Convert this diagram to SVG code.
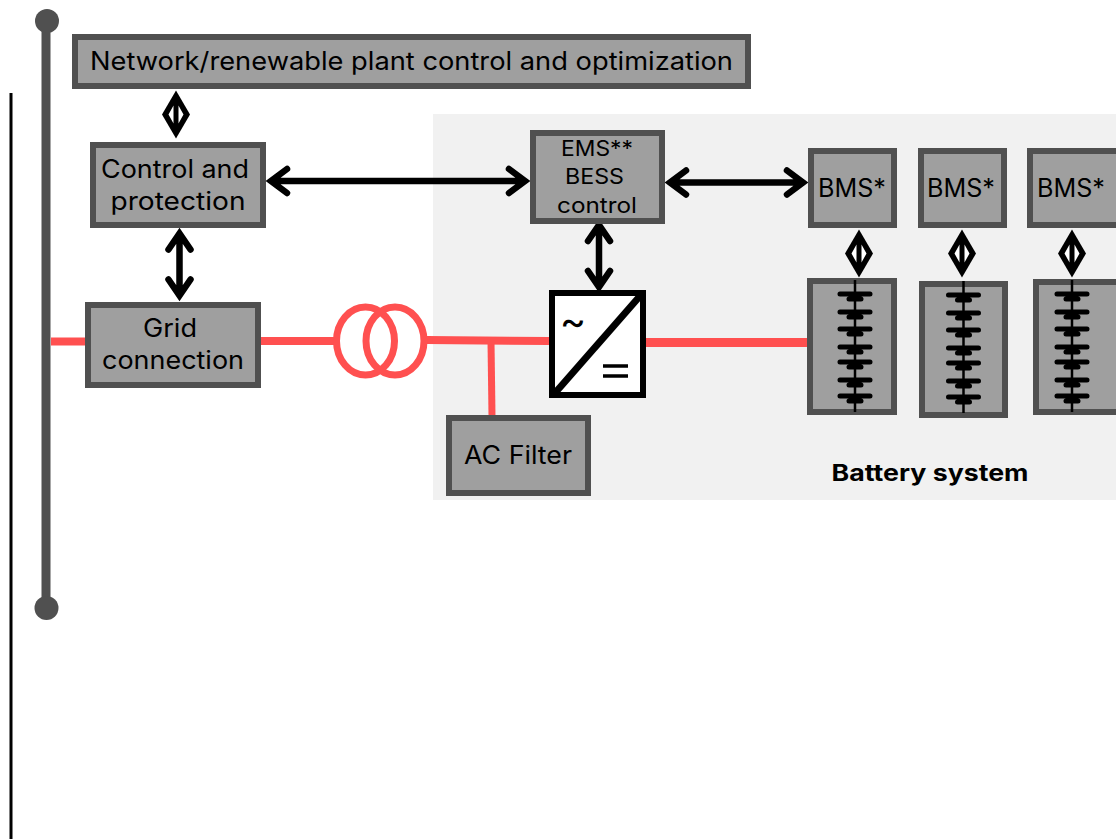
<svg xmlns="http://www.w3.org/2000/svg" xmlns:xlink="http://www.w3.org/1999/xlink" width="1116" height="839" viewBox="0 0 1116 839">
<style>
.box{fill:#9f9f9f;stroke:#505050;stroke-width:6}
.t{font-family:Inter,"Liberation Sans",sans-serif;font-size:25px;fill:#000;text-anchor:middle}
.s{font-size:22px}
.red{stroke:#ff5050;fill:none}
.arr{stroke:#000;stroke-width:6.500;fill:none;stroke-linecap:round;stroke-linejoin:miter}
.plate{stroke:#000;stroke-linecap:round;fill:none}
</style>
<defs>
<g id="dbl"><path class="arr" d="M0 -28V28M-11 -15L0 -31L11 -15M-11 15L0 31L11 15"/></g>
<g id="dia"><path d="M0 -24L-14 0L0 24L14 0Z" fill="#000"/><path d="M-2.500 -9L-7.500 0L-2.500 9ZM2.500 -9L7.500 0L2.500 9Z" fill="#fff"/></g>
<g id="cells">
<path stroke="#000" stroke-width="2.500" d="M0 -62V70"/>
<path class="plate" stroke-width="5" d="M-15 -48H15M-6 -43H6M-15 -30H15M-6 -25H6M-15 -13H15M-6 -8H6M-15 5H15M-6 10H6M-15 20H15M-6 25H6M-15 38H15M-6 43H6M-15 54H15M-6 59H6"/>
</g>
</defs>
<rect x="433" y="114" width="683" height="386" fill="#f1f1f1"/>
<path d="M11 93V839" stroke="#000" stroke-width="3"/>
<g id="bus"><path d="M46 21V608" stroke="#505050" stroke-width="9"/><circle cx="47" cy="21" r="12" fill="#505050"/><circle cx="46.500" cy="608" r="12" fill="#505050"/></g>
<g id="connectors">
<g class="red">
<path d="M51 341.500H87M261 341H334M427 340L549 341" stroke-width="8"/>
<path d="M491 341L492 416" stroke-width="7"/>
<path d="M646 342.500H807" stroke-width="9"/>
</g>
<path class="arr" d="M272 181H524M287 169L271 181L287 193M509 169L525 181L509 193"/>
<path class="arr" d="M671 182.500H802M686 170.500L670 182.500L686 194.500M787 170.500L803 182.500L787 194.500"/>
<use xlink:href="#dbl" x="179.500" y="264.500"/>
<use xlink:href="#dbl" x="599" y="256"/>
<use xlink:href="#dia" x="176" y="114.500"/>
<use xlink:href="#dia" x="859" y="253.500"/>
<use xlink:href="#dia" x="962" y="253.500"/>
<use xlink:href="#dia" x="1072" y="253.500"/>
</g>
<g id="transformer" class="red" stroke-width="7"><ellipse cx="365.500" cy="341" rx="29" ry="34"/><ellipse cx="395" cy="341" rx="29" ry="34"/></g>
<g id="network"><rect class="box" x="75" y="37" width="673" height="49"/><text class="t" x="411.500" y="70" textLength="643" lengthAdjust="spacingAndGlyphs">Network/renewable plant control and optimization</text></g>
<g id="control"><rect class="box" x="93" y="145" width="170" height="80"/><text class="t" x="175" y="178" textLength="148" lengthAdjust="spacingAndGlyphs">Control and</text><text class="t" x="178" y="210" textLength="135" lengthAdjust="spacingAndGlyphs">protection</text></g>
<g id="grid"><rect class="box" x="88" y="305" width="170" height="80"/><text class="t" x="170" y="337" textLength="54" lengthAdjust="spacingAndGlyphs">Grid</text><text class="t" x="173" y="369" textLength="142" lengthAdjust="spacingAndGlyphs">connection</text></g>
<g id="ems"><rect class="box" x="533" y="133" width="129" height="88"/><text class="t s" x="597" y="156" textLength="72" lengthAdjust="spacingAndGlyphs">EMS**</text><text class="t s" x="594.500" y="184" textLength="59" lengthAdjust="spacingAndGlyphs">BESS</text><text class="t s" x="597" y="213" textLength="80" lengthAdjust="spacingAndGlyphs">control</text></g>
<g id="bms1"><rect class="box" x="811" y="151" width="83" height="74"/><text class="t" x="852" y="197" textLength="68" lengthAdjust="spacingAndGlyphs">BMS*</text></g>
<g id="bms2"><rect class="box" x="921" y="151" width="83" height="74"/><text class="t" x="961" y="197" textLength="68" lengthAdjust="spacingAndGlyphs">BMS*</text></g>
<g id="bms3"><rect class="box" x="1030" y="151" width="90" height="74"/><text class="t" x="1071" y="197" textLength="68" lengthAdjust="spacingAndGlyphs">BMS*</text></g>
<g id="battery1"><rect class="box" x="810" y="281" width="84" height="131"/><use xlink:href="#cells" x="855" y="342"/></g>
<g id="battery2"><rect class="box" x="922" y="284" width="83" height="131"/><use xlink:href="#cells" x="963.500" y="343"/></g>
<g id="battery3"><rect class="box" x="1036" y="282" width="84" height="130"/><use xlink:href="#cells" x="1072" y="342"/></g>
<g id="converter"><rect x="552" y="293" width="91" height="102" fill="#fff" stroke="#000" stroke-width="6"/><path d="M640 296L555 393" stroke="#000" stroke-width="7"/><text x="573" y="335" font-family="Inter,sans-serif" font-size="40" text-anchor="middle">~</text><path d="M603 366H628M603 376H628" stroke="#000" stroke-width="3.500"/></g>
<g id="filter"><rect class="box" x="449" y="418" width="139" height="75"/><text class="t" x="518" y="464" textLength="108" lengthAdjust="spacingAndGlyphs">AC Filter</text></g>
<text class="t" x="930" y="481" style="font-size:23px;font-weight:700" textLength="197" lengthAdjust="spacingAndGlyphs">Battery system</text>
</svg>
